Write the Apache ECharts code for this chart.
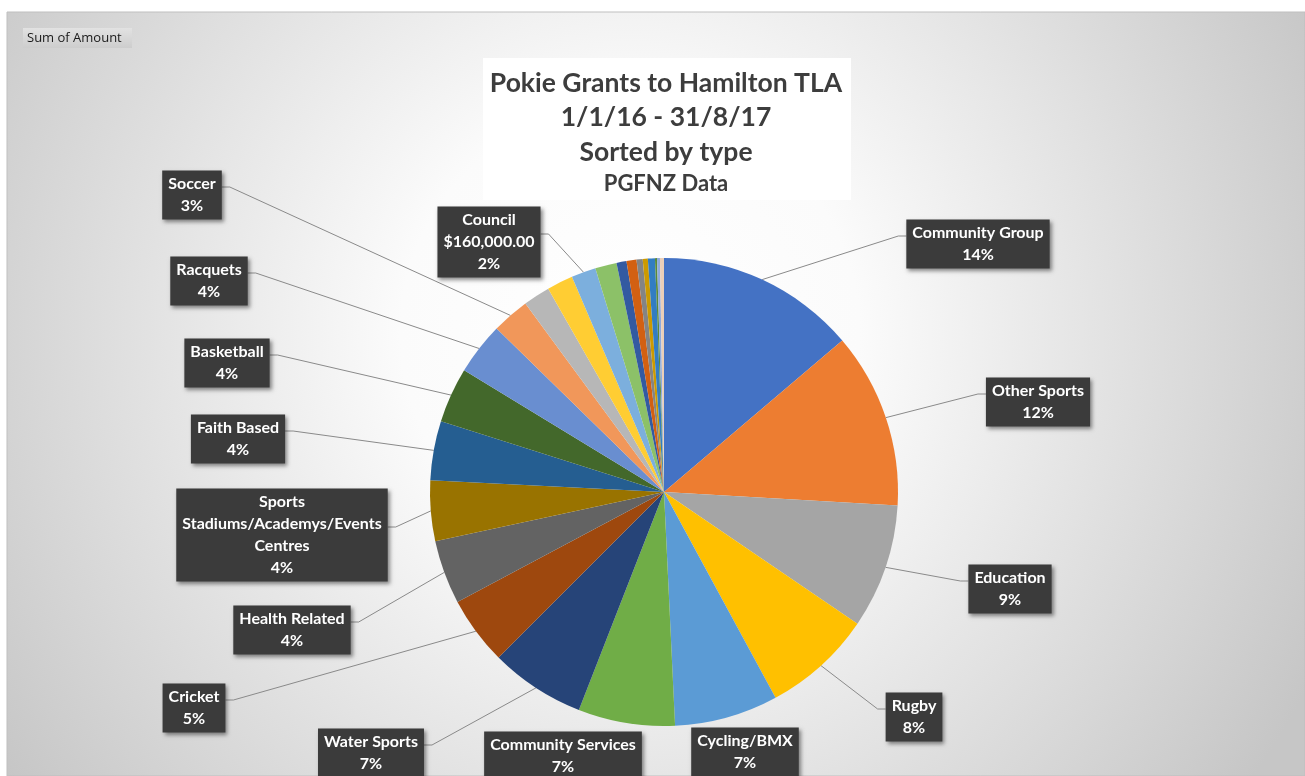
<!DOCTYPE html>
<html>
<head>
<meta charset="utf-8">
<script src="https://cdn.jsdelivr.net/npm/echarts@6/dist/echarts.min.js"></script>
<style>
html,body{margin:0;padding:0;background:#ffffff;}
#chart{width:1305px;height:776px;}
</style>
</head>
<body>
<div id="chart"></div>
<script>
// ---- data ----
const categories = [
  'Community Group', 'Other Sports', 'Education', 'Rugby', 'Cycling/BMX',
  'Community Services', 'Water Sports', 'Cricket', 'Health Related',
  'Sports Stadiums/Academys/Events Centres', 'Faith Based', 'Basketball',
  'Racquets', 'Soccer', 'Unlabelled 1', 'Unlabelled 2', 'Council',
  'Unlabelled 3', 'Unlabelled 4', 'Unlabelled 5', 'Unlabelled 6',
  'Unlabelled 7', 'Unlabelled 8', 'Unlabelled 9', 'Unlabelled 10', 'Unlabelled 11'
];
const amounts = [
  1300000, 1145000, 810000, 715000, 675000,
  630000, 620000, 445000, 415000,
  395000, 385000, 360000,
  340000, 245000, 175000, 170000, 160000,
  140000, 65000, 65000, 40000,
  33000, 46000, 13000, 19000, 26000
];
const labelledCategories = [
  'Community Group', 'Other Sports', 'Education', 'Rugby', 'Cycling/BMX',
  'Community Services', 'Water Sports', 'Cricket', 'Health Related',
  'Sports Stadiums/Academys/Events Centres', 'Faith Based', 'Basketball',
  'Racquets', 'Soccer', 'Council'
];
const amountShownFor = ['Council'];
const titleLines = ['Pokie Grants to Hamilton TLA', '1/1/16 - 31/8/17', 'Sorted by type'];
const subtitleText = 'PGFNZ Data';
const fieldButtonText = 'Sum of Amount';

// ---- styling / layout (kept apart from the data) ----
const colors = [
  '#4472C4', '#ED7D31', '#A5A5A5', '#FFC000', '#5B9BD5', '#70AD47',
  '#264478', '#9E480E', '#636363', '#997300', '#255E91', '#43682B',
  '#698ED0', '#F1975A', '#B7B7B7', '#FFCD33', '#7CAFDD', '#8CC168',
  '#335AA1', '#D26012', '#848484', '#CC9A00', '#327DC2', '#5A8A39',
  '#8FAADC', '#EBCFB8'
];
// label box centres (layout of the data labels, Excel-style manual placement)
const labelCentres = {
  'Community Group': [978, 244],
  'Other Sports': [1038, 402],
  'Education': [1010, 589],
  'Rugby': [914, 717],
  'Cycling/BMX': [745, 752],
  'Community Services': [563, 756],
  'Water Sports': [371, 753],
  'Cricket': [194, 708],
  'Health Related': [292, 630],
  'Sports Stadiums/Academys/Events Centres': [282, 535],
  'Faith Based': [238, 439],
  'Basketball': [227, 363],
  'Racquets': [209, 281],
  'Soccer': [192, 195],
  'Council': [489, 242]
};
const noLeaderLine = ['Cycling/BMX', 'Community Services'];

const total = amounts.reduce((a, b) => a + b, 0);

function money(v) {
  return '$' + v.toFixed(2).replace(/\B(?=(\d{3})+(?!\d))/g, ',');
}

const seriesData = categories.map((name, i) => {
  const item = { name: name, value: amounts[i] };
  if (labelledCategories.indexOf(name) < 0) {
    item.label = { show: false };
    item.labelLine = { show: false };
  } else if (noLeaderLine.indexOf(name) >= 0) {
    item.labelLine = { show: false };
  }
  return item;
});

const chart = echarts.init(document.getElementById('chart'), null, { renderer: 'canvas' });

const titleGraphics = titleLines.map((t, i) => ({
  type: 'text',
  silent: true,
  x: 666,
  y: 83 + i * 34.5,
  style: {
    text: t,
    font: 'bold 26.5px Lato',
    fill: '#3d3d3d',
    textAlign: 'center',
    textVerticalAlign: 'middle',
    align: 'center',
    verticalAlign: 'middle'
  }
}));

const option = {
  backgroundColor: '#ffffff',
  animation: false,
  color: colors,
  graphic: [
    {
      type: 'rect', silent: true, z: -10,
      shape: { x: 7, y: 12, width: 1298, height: 764 },
      style: {
        fill: {
          type: 'radial', x: 0.48, y: 0.42, r: 1.0,
          colorStops: [
            { offset: 0, color: '#ffffff' },
            { offset: 0.3, color: '#fbfbfb' },
            { offset: 1, color: '#c6c6c6' }
          ]
        },
        stroke: '#bfbfbf', lineWidth: 1
      }
    },
    {
      type: 'rect', silent: true,
      shape: { x: 23, y: 28, width: 109, height: 20 },
      style: {
        fill: {
          type: 'linear', x: 0, y: 0, x2: 0, y2: 1,
          colorStops: [{ offset: 0, color: '#e2e2e2' }, { offset: 1, color: '#cdcdcd' }]
        }
      }
    },
    {
      type: 'text', silent: true, x: 27, y: 38,
      style: { text: fieldButtonText, font: '13px "Open Sans"', fill: '#1a1a1a', verticalAlign: 'middle', textVerticalAlign: 'middle' }
    },
    {
      type: 'rect', silent: true,
      shape: { x: 483, y: 58, width: 368, height: 142 },
      style: { fill: '#ffffff' }
    }
  ].concat(titleGraphics).concat([
    {
      type: 'text', silent: true,
      x: 666, y: 184,
      style: {
        text: subtitleText, font: 'bold 22px Lato', fill: '#3d3d3d',
        textAlign: 'center', align: 'center', verticalAlign: 'middle', textVerticalAlign: 'middle'
      }
    }
  ]),
  series: [{
    type: 'pie',
    center: [664, 492],
    radius: 234,
    startAngle: 90,
    clockwise: true,
    avoidLabelOverlap: false,
    itemStyle: { borderWidth: 0 },
    emphasis: { disabled: true },
    label: {
      show: true,
      position: 'outside',
      formatter: function (p) {
        const pct = Math.round(p.value / total * 100) + '%';
        let name = p.name;
        if (name === 'Sports Stadiums/Academys/Events Centres') {
          name = 'Sports\nStadiums/Academys/Events\nCentres';
        }
        const amt = amountShownFor.indexOf(p.name) >= 0 ? '\n' + money(p.value) : '';
        return name + amt + '\n' + pct;
      },
      color: '#ffffff',
      fontFamily: 'Lato',
      fontWeight: 'bold',
      fontSize: 16,
      lineHeight: 22,
      align: 'center',
      backgroundColor: '#3b3b3b',
      padding: [3, 6, 2, 6],
      shadowColor: 'rgba(0,0,0,0.45)',
      shadowBlur: 4,
      shadowOffsetX: 2,
      shadowOffsetY: 2
    },
    labelLine: {
      show: true,
      length: 10,
      length2: 10,
      lineStyle: { color: '#8a8a8a', width: 1 }
    },
    labelLayout: function (params) {
      const name = categories[params.dataIndex];
      const pos = labelCentres[name];
      if (!pos) return {};
      const w = params.labelRect.width;
      const res = { x: pos[0], y: pos[1], align: 'center', verticalAlign: 'middle' };
      const pts = params.labelLinePoints;
      if (pts && pts[0] && noLeaderLine.indexOf(name) < 0) {
        const p0 = pts[0];
        const ay = pos[1] - 8;
        let ex, bx;
        if (pos[0] > p0[0]) { ex = pos[0] - w / 2; bx = ex - 8; }
        else { ex = pos[0] + w / 2; bx = ex + 8; }
        res.labelLinePoints = [p0, [bx, ay], [ex, ay]];
      }
      return res;
    },
    data: seriesData
  }]
};

chart.setOption(option);
</script>
</body>
</html>
